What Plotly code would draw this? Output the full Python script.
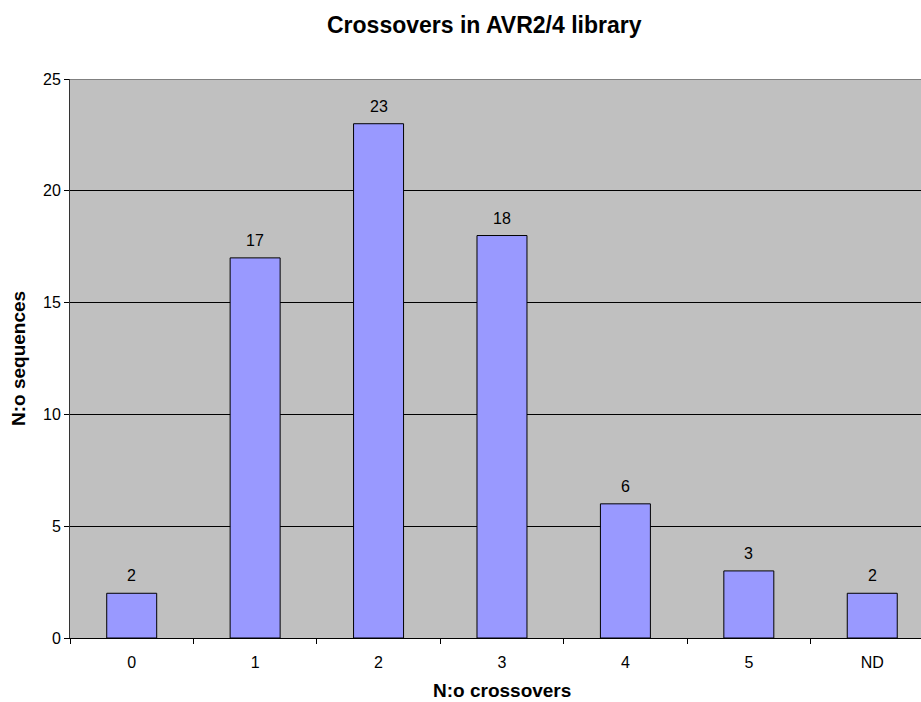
import plotly.graph_objects as go

# Number of crossovers per sequence and the count of sequences in each class
categories = ["0", "1", "2", "3", "4", "5", "ND"]
counts = [2, 17, 23, 18, 6, 3, 2]

y_ticks = [0, 5, 10, 15, 20, 25]

FONT = "Liberation Sans, Arial, sans-serif"

W, H = 921, 702
L, R, T, B = 70, 0, 79, 64
PW, PH = W - L - R, H - T - B


def px_x(p):
    return (p - L) / PW


def px_y(p):
    return (H - B - p) / PH


fig = go.Figure(
    go.Bar(
        x=categories,
        y=counts,
        marker=dict(color="#9999FF", line=dict(color="black", width=1)),
        hoverinfo="x+y",
    )
)

# value labels sitting above each bar
value_labels = [
    dict(x=c, y=v, xref="x", yref="y", text=str(v), showarrow=False,
         yanchor="bottom", yshift=7, font=dict(family=FONT, size=16, color="black"))
    for c, v in zip(categories, counts)
]

fig.update_layout(
    width=W,
    height=H,
    margin=dict(l=L, r=R, t=T, b=B),
    paper_bgcolor="white",
    plot_bgcolor="#C0C0C0",
    bargap=0.595,
    showlegend=False,
    font=dict(family=FONT, size=16, color="black"),
    xaxis=dict(
        type="category",
        tickson="boundaries",
        ticks="outside",
        ticklen=5,
        tickcolor="black",
        ticklabelstandoff=10,
        showgrid=False,
        showline=True,
        linecolor="black",
        linewidth=1,
        tickfont=dict(family=FONT, size=16),
        range=[-0.5, 6.395],
    ),
    yaxis=dict(
        range=[0, 25],
        tickvals=y_ticks,
        ticks="outside",
        ticklen=5,
        tickcolor="black",
        showgrid=True,
        gridcolor="black",
        gridwidth=1,
        showline=True,
        linecolor="#333333",
        linewidth=1,
        zeroline=False,
        tickfont=dict(family=FONT, size=16),
    ),
    annotations=value_labels + [
        dict(
            text="<b>Crossovers in AVR2/4 library</b>",
            x=px_x(484), y=px_y(25), xref="paper", yref="paper",
            xanchor="center", yanchor="middle", showarrow=False,
            font=dict(family=FONT, size=23, color="black"),
        ),
        dict(
            text="<b>N:o crossovers</b>",
            x=px_x(502), y=px_y(690), xref="paper", yref="paper",
            xanchor="center", yanchor="middle", showarrow=False,
            font=dict(family=FONT, size=19, color="black"),
        ),
        dict(
            text="<b>N:o sequences</b>",
            x=px_x(18), y=px_y(359), xref="paper", yref="paper",
            xanchor="center", yanchor="middle", showarrow=False, textangle=-90,
            font=dict(family=FONT, size=19, color="black"),
        ),
    ],
    shapes=[
        dict(type="line", xref="paper", yref="y", x0=0, x1=1, y0=25, y1=25,
             line=dict(color="#808080", width=2)),
    ],
)

fig.write_html("out.html")
